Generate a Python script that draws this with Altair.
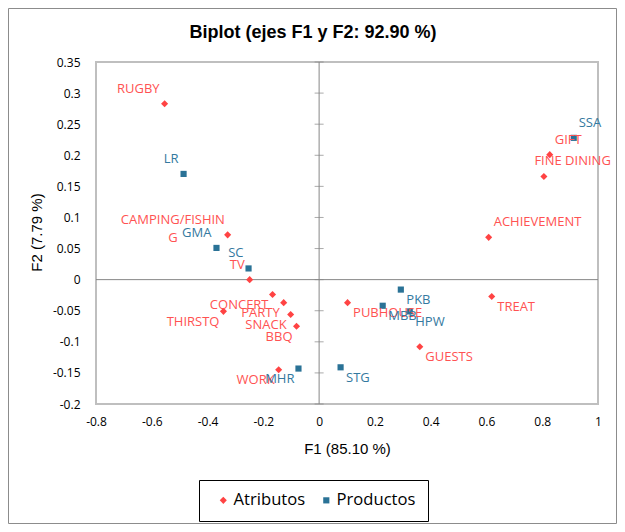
import altair as alt
import pandas as pd

# ---- data ----
attr_names = ["RUGBY", "CAMPING/FISHING", "TV", "CONCERT", "PARTY", "SNACK", "BBQ",
              "THIRSTQ", "WORK", "GIFT", "FINE DINING", "ACHIEVEMENT", "TREAT",
              "PUBHOUSE", "GUESTS"]
attr_f1 = [-0.554, -0.328, -0.249, -0.167, -0.127, -0.102, -0.081,
           -0.343, -0.145, 0.827, 0.806, 0.608, 0.619, 0.102, 0.361]
attr_f2 = [0.283, 0.072, 0.000, -0.024, -0.037, -0.056, -0.075,
           -0.051, -0.145, 0.201, 0.166, 0.068, -0.027, -0.037, -0.108]

prod_names = ["LR", "GMA", "SC", "MHR", "SSA", "PKB", "MBB", "HPW", "STG"]
prod_f1 = [-0.486, -0.368, -0.253, -0.074, 0.913, 0.293, 0.228, 0.325, 0.077]
prod_f2 = [0.170, 0.051, 0.018, -0.143, 0.228, -0.016, -0.042, -0.051, -0.141]

x_ticks = [-0.8, -0.6, -0.4, -0.2, 0, 0.2, 0.4, 0.6, 0.8, 1]
y_ticks = [0.35, 0.3, 0.25, 0.2, 0.15, 0.1, 0.05, 0, -0.05, -0.1, -0.15, -0.2]

groups = ["Atributos", "Productos"]

# ---- styling ----
RED, BLUE = "#FF4343", "#2A7296"
RED_T, BLUE_T = "#FF5252", "#3479A0"
W, H = 502, 342
WRAP = 14          # characters per label line
CHAR_W = 0.026     # approx. label character width in F1 units

df = pd.concat([
    pd.DataFrame({"name": attr_names, "F1": attr_f1, "F2": attr_f2, "tipo": groups[0]}),
    pd.DataFrame({"name": prod_names, "F1": prod_f1, "F2": prod_f2, "tipo": groups[1]}),
], ignore_index=True)

xscale = alt.Scale(domain=[x_ticks[0], x_ticks[-1]], nice=False, zero=False)
yscale = alt.Scale(domain=[y_ticks[-1], y_ticks[0]], nice=False, zero=False)

common_axis = dict(labelExpr="'' + datum.value", grid=False, ticks=False, tickSize=0,
                   domain=False, labelFont="Open Sans", labelFontSize=12,
                   labelColor="#000000", labelOverlap=False, labelFlush=False,
                   titleFont="Liberation Sans", titleFontSize=15, titleFontWeight="normal",
                   titleColor="#000000", titleBaseline="middle", titleAlign="center")
xaxis = alt.Axis(values=x_ticks, labelPadding=12, title="F1 (85.10 %)",
                 titleX=W / 2, titleY=44, **common_axis)
yaxis = alt.Axis(values=y_ticks, labelPadding=16, title="F2 (7.79 %)",
                 titleX=-60, titleY=H / 2 - 1, titleAngle=-90, **common_axis)

base = alt.Chart(df).transform_calculate(
    label=f"length(datum.name) > {WRAP} ? substring(datum.name, 0, {WRAP}) + '\\n' + substring(datum.name, {WRAP}) : datum.name",
    lx=f"min(datum.F1, 1.04 - length(datum.name) * {CHAR_W})",
    cx=f"datum.F1 - min(length(datum.name), {WRAP}) * {CHAR_W} / 2",
)

one = alt.Data(values=[{"k": 1}])

# outer chart border
border = alt.Chart(one).mark_rect(
    fill=None, stroke="#8C8C8C", strokeWidth=1
).encode(x=alt.value(-87.5), x2=alt.value(W + 18.5), y=alt.value(-53.5), y2=alt.value(H + 119.5))

zero_v = alt.Chart(one).mark_rule(color="#868686", strokeWidth=1).encode(
    x=alt.datum(0, scale=xscale, axis=xaxis))
zero_h = alt.Chart(one).mark_rule(color="#868686", strokeWidth=1).encode(
    y=alt.datum(0, scale=yscale, axis=yaxis))

ticks = alt.Chart(pd.DataFrame({"v": y_ticks})).mark_tick(
    orient="horizontal", size=9, thickness=1, color="#868686"
).encode(x=alt.datum(0, scale=xscale, axis=xaxis),
         y=alt.Y("v:Q", scale=yscale, axis=yaxis))

legend = alt.Legend(title=None, orient="none", legendX=103, legendY=418,
                    direction="horizontal", strokeColor="#000000", padding=12,
                    labelFont="Open Sans", labelFontSize=16.6, labelColor="#000000",
                    symbolSize=40, symbolStrokeWidth=0, columnPadding=8,
                    labelOffset=2, symbolOffset=4)

points = base.mark_point(filled=True, opacity=1, strokeWidth=0).encode(
    x=alt.X("F1:Q", scale=xscale, axis=xaxis),
    y=alt.Y("F2:Q", scale=yscale, axis=yaxis),
    color=alt.Color("tipo:N", scale=alt.Scale(domain=groups, range=[RED, BLUE]), legend=legend),
    shape=alt.Shape("tipo:N", scale=alt.Scale(domain=groups, range=["diamond", "square"]),
                    legend=legend),
    size=alt.Size("tipo:N", scale=alt.Scale(domain=groups, range=[50, 38]), legend=None),
)

text_color = alt.condition("datum.tipo == 'Atributos'", alt.value(RED_T), alt.value(BLUE_T))


def labels(filt, align, dx, dy, xfield="F1"):
    return base.transform_filter(filt).mark_text(
        align=align, baseline="middle", dx=dx, dy=dy, font="Open Sans", fontSize=13,
        lineBreak="\n", lineHeight=18
    ).encode(
        x=alt.X(f"{xfield}:Q", scale=xscale, axis=xaxis),
        y=alt.Y("F2:Q", scale=yscale, axis=yaxis),
        text="label:N",
        color=text_color,
    )


single = f"length(datum.name) <= {WRAP}"
lab_ul = labels(f"datum.F1 < 0 && datum.F2 >= 0 && {single}", "right", -5, -15)
lab_ulw = labels(f"datum.F1 < 0 && datum.F2 >= 0 && !({single})", "center", -4, -15, "cx")
lab_ll = labels("datum.F1 < 0 && datum.F2 < 0", "right", -4, 10.5)
lab_ur = labels("datum.F1 >= 0 && datum.F2 >= 0", "left", 5, -15, "lx")
lab_lr = labels("datum.F1 >= 0 && datum.F2 < 0", "left", 5.5, 10.5)

chart = alt.layer(
    border, zero_v, zero_h, ticks, points, lab_ul, lab_ulw, lab_ll, lab_ur, lab_lr
).properties(
    width=W, height=H,
    title=alt.TitleParams("Biplot (ejes F1 y F2: 92.90 %)", font="Liberation Sans",
                          fontSize=18, fontWeight="bold", color="#000000", anchor="middle",
                          frame="group", dx=-34, offset=-48, baseline="alphabetic"),
    autosize=alt.AutoSizeParams(type="none"),
    padding={"left": 88, "top": 54, "right": 19, "bottom": 120},
    background="#FFFFFF",
).configure_view(stroke="#BFBFBF", strokeWidth=2, fill=None)

chart.save("out.html", embed_options={"renderer": "svg", "actions": False})
